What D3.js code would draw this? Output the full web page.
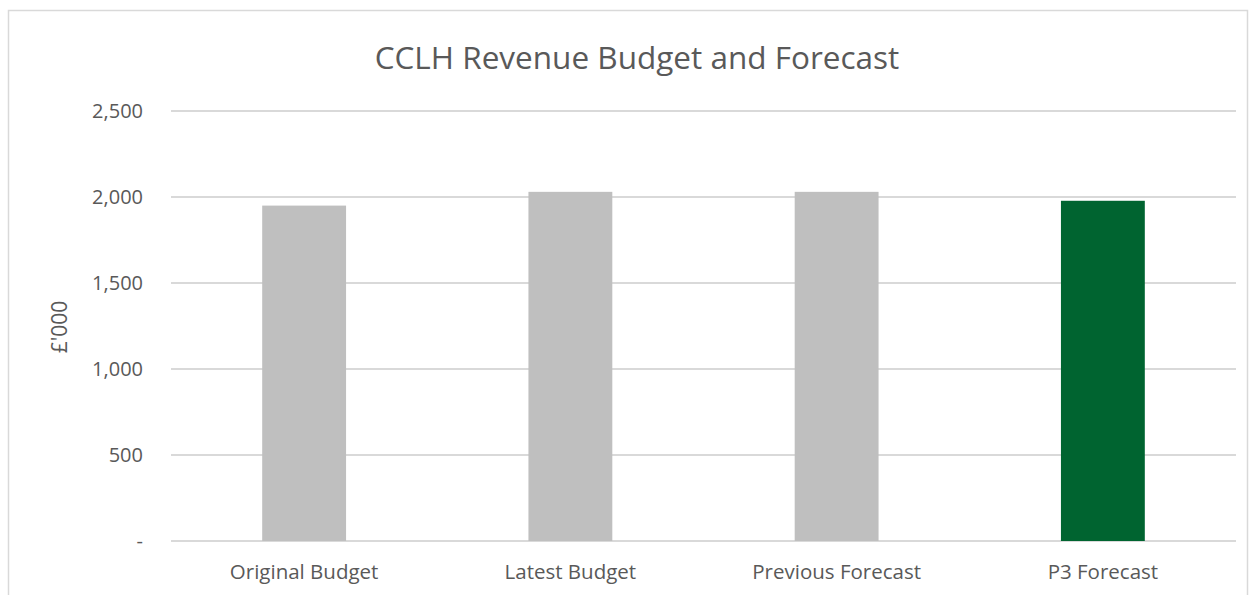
<!DOCTYPE html>
<html>
<head>
<meta charset="utf-8">
<script src="https://cdn.jsdelivr.net/npm/d3@7"></script>
<style>
  body { margin: 0; background: #fff; }
  text { font-family: "Open Sans", Lato, sans-serif; fill: #595959; }
</style>
</head>
<body>
<div id="chart"></div>
<script>
var w = 1253;
var h = 595;

// chart data
var categories = ["Original Budget", "Latest Budget", "Previous Forecast", "P3 Forecast"];
var values = [1950, 2030, 2030, 1978];
var barColors = ["#bfbfbf", "#bfbfbf", "#bfbfbf", "#006430"];
var yTicks = [0, 500, 1000, 1500, 2000, 2500];

var margin = {left: 171, right: 1236, top: 111, bottom: 541};

var svg = d3.select("#chart")
    .append("svg")
    .attr("width", w)
    .attr("height", h);

// outer chart border
svg.append("rect")
    .attr("x", 8.5)
    .attr("y", 10.5)
    .attr("width", 1239)
    .attr("height", 600)
    .attr("fill", "none")
    .attr("stroke", "#d9d9d9")
    .attr("stroke-width", 1.5);

var x = d3.scaleBand()
    .domain(categories)
    .range([margin.left, margin.right])
    .paddingInner(0.685)
    .paddingOuter(0.3425);

var y = d3.scaleLinear()
    .domain([0, 2500])
    .range([margin.bottom, margin.top]);

// gridlines
svg.selectAll("line.grid")
    .data(yTicks)
    .enter()
    .append("line")
    .attr("class", "grid")
    .attr("x1", margin.left)
    .attr("x2", margin.right)
    .attr("y1", function(d) { return y(d); })
    .attr("y2", function(d) { return y(d); })
    .attr("stroke", "#d9d9d9")
    .attr("stroke-width", 2);

// y tick labels
var fmt = d3.format(",");
svg.selectAll("text.ytick")
    .data(yTicks)
    .enter()
    .append("text")
    .attr("class", "ytick")
    .attr("x", 143)
    .attr("y", function(d) { return y(d); })
    .attr("dy", "0.35em")
    .attr("text-anchor", "end")
    .style("font-size", "20px")
    .text(function(d) { return d === 0 ? "-" : fmt(d); });

// bars
svg.selectAll("rect.bar")
    .data(values)
    .enter()
    .append("rect")
    .attr("class", "bar")
    .attr("x", function(d, i) { return x(categories[i]); })
    .attr("width", x.bandwidth())
    .attr("y", function(d) { return y(d); })
    .attr("height", function(d) { return y(0) - y(d); })
    .attr("fill", function(d, i) { return barColors[i]; });

// category labels
svg.selectAll("text.xtick")
    .data(categories)
    .enter()
    .append("text")
    .attr("class", "xtick")
    .attr("x", function(d) { return x(d) + x.bandwidth() / 2; })
    .attr("y", 572)
    .attr("dy", "0.35em")
    .attr("text-anchor", "middle")
    .style("font-size", "20.5px")
    .text(function(d) { return d; });

// axis title
svg.append("text")
    .attr("transform", "translate(60,327) rotate(-90)")
    .attr("dy", "0.35em")
    .attr("text-anchor", "middle")
    .style("font-size", "21px")
    .text("£'000");

// chart title
svg.append("text")
    .attr("x", 637)
    .attr("y", 58)
    .attr("dy", "0.35em")
    .attr("text-anchor", "middle")
    .style("font-size", "31.5px")
    .text("CCLH Revenue Budget and Forecast");
</script>
</body>
</html>
